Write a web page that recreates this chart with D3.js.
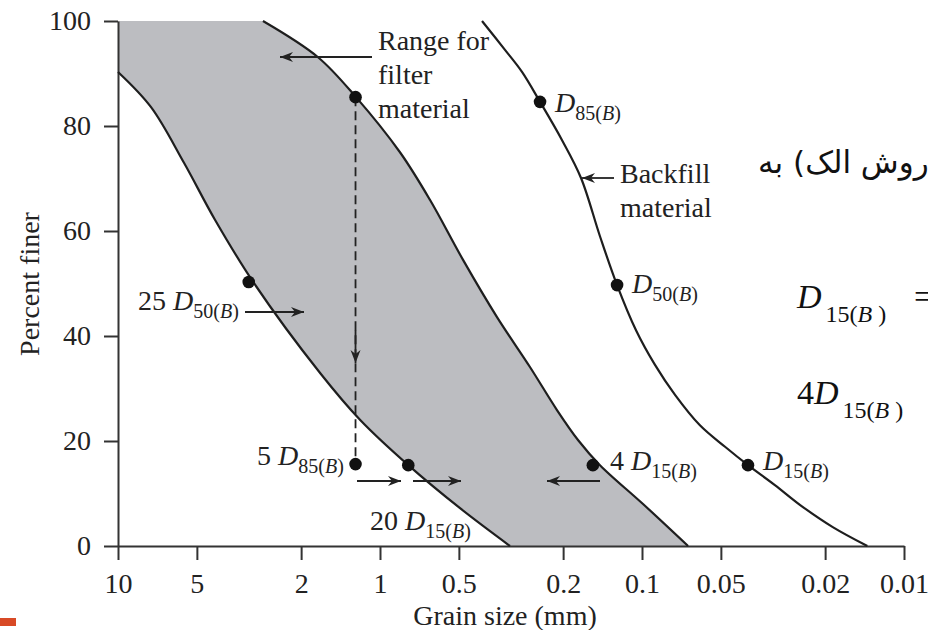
<!DOCTYPE html>
<html><head><meta charset="utf-8">
<script src="https://cdn.jsdelivr.net/npm/d3@7"></script>
<style>
html,body{margin:0;padding:0;background:#fff;}
svg{display:block;}
</style></head>
<body>
<svg id="chart" width="928" height="630"></svg>
<script>
// ---------- data ----------
const xTicks = [10, 5, 2, 1, 0.5, 0.2, 0.1, 0.05, 0.02, 0.01];
const yTicks = [0, 20, 40, 60, 80, 100];

// coarse (left) boundary of the filter range
const coarseSize = [10, 7.48, 5.6, 4.26, 3.03, 1.69, 1.19, 0.78, 0.495, 0.319];
const coarsePct  = [90.3, 83.6, 73.0, 62.1, 50.1, 32.9, 24, 15.4, 7.2, 0];

// fine (right) boundary of the filter range
const fineSize = [2.797, 1.724, 1.235, 0.839, 0.644, 0.482, 0.3576, 0.2677, 0.2111, 0.1755, 0.1447, 0.0991, 0.0667];
const finePct  = [100, 93.1, 85.5, 75.0, 65.9, 54.5, 43.6, 34.1, 25.9, 20.2, 15.4, 8.0, 0];

// backfill material
const backSize = [0.408, 0.3334, 0.2871, 0.245, 0.2019, 0.1709, 0.1447, 0.1245, 0.1054, 0.0892, 0.0748, 0.0601, 0.0482, 0.0394, 0.0311, 0.0249, 0.0187, 0.0138];
const backPct  = [100, 94.5, 90.3, 84.6, 77.3, 70.1, 59.0, 49.7, 41.1, 34.5, 28.8, 23.0, 18.9, 15.4, 11.6, 7.8, 3.6, 0];

// marked points
const dotNames = ["range", "D85", "25D50", "D50", "5D85", "20D15", "4D15", "D15"];
const dotSize  = [1.24, 0.245, 3.17, 0.1245, 1.24, 0.78, 0.154, 0.0394];
const dotPct   = [85.5, 84.6, 50.3, 49.7, 15.6, 15.4, 15.4, 15.4];

// ---------- chart ----------
const svg = d3.select("#chart");
const x = d3.scaleLog().domain([10, 0.01]).range([118, 904]);
const y = d3.scaleLinear().domain([0, 100]).range([546, 21]);

const zip = (s, p) => s.map((v, i) => [v, p[i]]);
const coarse = zip(coarseSize, coarsePct);
const fine = zip(fineSize, finePct);
const back = zip(backSize, backPct);

const line = d3.line().x(d => x(d[0])).y(d => y(d[1])).curve(d3.curveCatmullRom.alpha(0.5));

const INK = "#222";
const SERIF = "'Liberation Serif','Times New Roman',serif";

// shaded band: fill under fine boundary, then white under coarse boundary
const finePath = line(fine);
svg.append("path")
  .attr("d", `M${x(10)},${y(100)}L` + finePath.slice(1) + `L${x(10)},${y(0)}Z`)
  .attr("fill", "#bcbdc1");
const coarsePath = line(coarse);
svg.append("path")
  .attr("d", coarsePath + `L${x(10)},${y(0)}Z`)
  .attr("fill", "#fff");

// axes
const fontSize = 28;
const gx = svg.append("g").attr("transform", `translate(0,${y(0)})`)
  .call(d3.axisBottom(x).tickValues(xTicks).tickFormat(d => String(d))
    .tickSize(14).tickSizeOuter(0).tickPadding(13));
const gy = svg.append("g").attr("transform", `translate(${x(10)},0)`)
  .call(d3.axisLeft(y).tickValues(yTicks).tickSize(14).tickSizeOuter(0).tickPadding(13));
[gx, gy].forEach(g => {
  g.attr("font-family", SERIF).attr("font-size", fontSize);
  g.selectAll("path,line").attr("stroke", "#333").attr("stroke-width", 2);
  g.selectAll("text").attr("fill", INK);
});

// axis titles
svg.append("text").attr("x", 505).attr("y", 625).attr("text-anchor", "middle")
  .attr("font-family", SERIF).attr("font-size", fontSize).attr("fill", INK)
  .text("Grain size (mm)");
svg.append("text").attr("transform", "translate(39,284) rotate(-90)").attr("text-anchor", "middle")
  .attr("font-family", SERIF).attr("font-size", fontSize).attr("fill", INK)
  .text("Percent finer");

// curves
[coarse, fine, back].forEach(d => {
  svg.append("path").attr("d", line(d)).attr("fill", "none")
    .attr("stroke", "#1e1e1e").attr("stroke-width", 2.2);
});

// dashed vertical
const di = dotNames.indexOf("range"), dj = dotNames.indexOf("5D85");
svg.append("line")
  .attr("x1", x(dotSize[di])).attr("x2", x(dotSize[dj]))
  .attr("y1", y(dotPct[di])).attr("y2", y(dotPct[dj]))
  .attr("stroke", "#222").attr("stroke-width", 1.8).attr("stroke-dasharray", "9,5");

// arrows
function arrow(x1, y1, x2, y2) {
  svg.append("line").attr("x1", x1).attr("y1", y1).attr("x2", x2).attr("y2", y2)
    .attr("stroke", "#222").attr("stroke-width", 1.8);
  const a = Math.atan2(y2 - y1, x2 - x1);
  const L = 13, w = 5, n = 9;
  const p = (d, s) => [x2 - d * Math.cos(a) - s * Math.sin(a), y2 - d * Math.sin(a) + s * Math.cos(a)];
  const pts = [[x2, y2], p(L, w), p(n, 0), p(L, -w)];
  svg.append("path").attr("d", "M" + pts.map(q => q.join(",")).join("L") + "Z").attr("fill", "#222");
}
arrow(372, 57, 280, 57);          // range for filter
arrow(614, 178, 582, 178);        // backfill
arrow(245, 312, 304, 312);        // 25 D50
arrow(x(dotSize[di]), 330, x(dotSize[di]), 363); // dashed arrow head
arrow(357, 481, 401, 481);
arrow(413, 481, 461, 481);
arrow(600, 481, 547, 481);

// dots
svg.selectAll("circle.dot").data(dotSize).join("circle")
  .attr("cx", d => x(d)).attr("cy", (d, i) => y(dotPct[i])).attr("r", 6.3).attr("fill", "#111");

// labels
function label(px, py, parts, size, subSize, subDy) {
  const t = svg.append("text").attr("x", px).attr("y", py)
    .attr("font-family", SERIF).attr("font-size", size).attr("fill", INK);
  let inSub = false;
  parts.forEach(p => {
    const s = t.append("tspan").text(p.t);
    if (p.it) s.attr("font-style", "italic");
    if (p.sub) {
      s.attr("font-size", subSize);
      if (!inSub) { s.attr("dy", subDy); inSub = true; }
    } else if (inSub) { s.attr("dy", -subDy); inSub = false; }
  });
  return t;
}
const sub = (pre, n) => [{ t: pre }, { t: "D", it: true }, { t: n + "(", sub: true }, { t: "B", it: true, sub: true }, { t: ")", sub: true }];

[["Range for", 50], ["filter", 84], ["material", 118]].forEach(([s, yy]) => label(378, yy, [{ t: s }], 28));
[["Backfill", 183], ["material", 217]].forEach(([s, yy]) => label(620, yy, [{ t: s }], 28));
label(555, 112, sub("", "85"), 28, 20, 8);
label(632, 293, sub("", "50"), 28, 20, 8);
label(763, 470, sub("", "15"), 28, 20, 8);
label(610, 470, sub("4 ", "15"), 28, 20, 8);
label(257, 465, sub("5 ", "85"), 28, 20, 8);
label(370, 530, sub("20 ", "15"), 28, 20, 8);
label(138, 310, sub("25 ", "50"), 28, 20, 8);

// right-side math text
const MATH = "'Liberation Serif','Times New Roman',serif";
const m1 = svg.append("text").attr("x", 797).attr("y", 308).attr("font-family", MATH).attr("font-size", 34).attr("fill", "#111");
m1.append("tspan").attr("font-style", "italic").text("D");
m1.append("tspan").attr("font-size", 24).attr("dy", 14).attr("dx", 4).text("15(");
m1.append("tspan").attr("font-size", 24).attr("font-style", "italic").text("B");
m1.append("tspan").attr("font-size", 24).text(" )");
m1.append("tspan").attr("dy", -14).attr("x", 914).text("=");
const m2 = svg.append("text").attr("x", 797).attr("y", 404).attr("font-family", MATH).attr("font-size", 34).attr("fill", "#111");
m2.append("tspan").text("4");
m2.append("tspan").attr("font-style", "italic").text("D");
m2.append("tspan").attr("font-size", 24).attr("dy", 14).attr("dx", 4).text("15(");
m2.append("tspan").attr("font-size", 24).attr("font-style", "italic").text("B");
m2.append("tspan").attr("font-size", 24).text(" )");

// Persian text (cut at right edge)
svg.append("text").attr("x", 758).attr("y", 173).attr("direction", "rtl").attr("text-anchor", "end")
  .attr("font-family", "'DejaVu Sans',sans-serif").attr("font-size", 31).attr("fill", "#111")
  .text("(روش الک) به");

// orange mark
svg.append("rect").attr("x", 0).attr("y", 618).attr("width", 16).attr("height", 8).attr("fill", "#d84a26");
</script>
</body></html>
